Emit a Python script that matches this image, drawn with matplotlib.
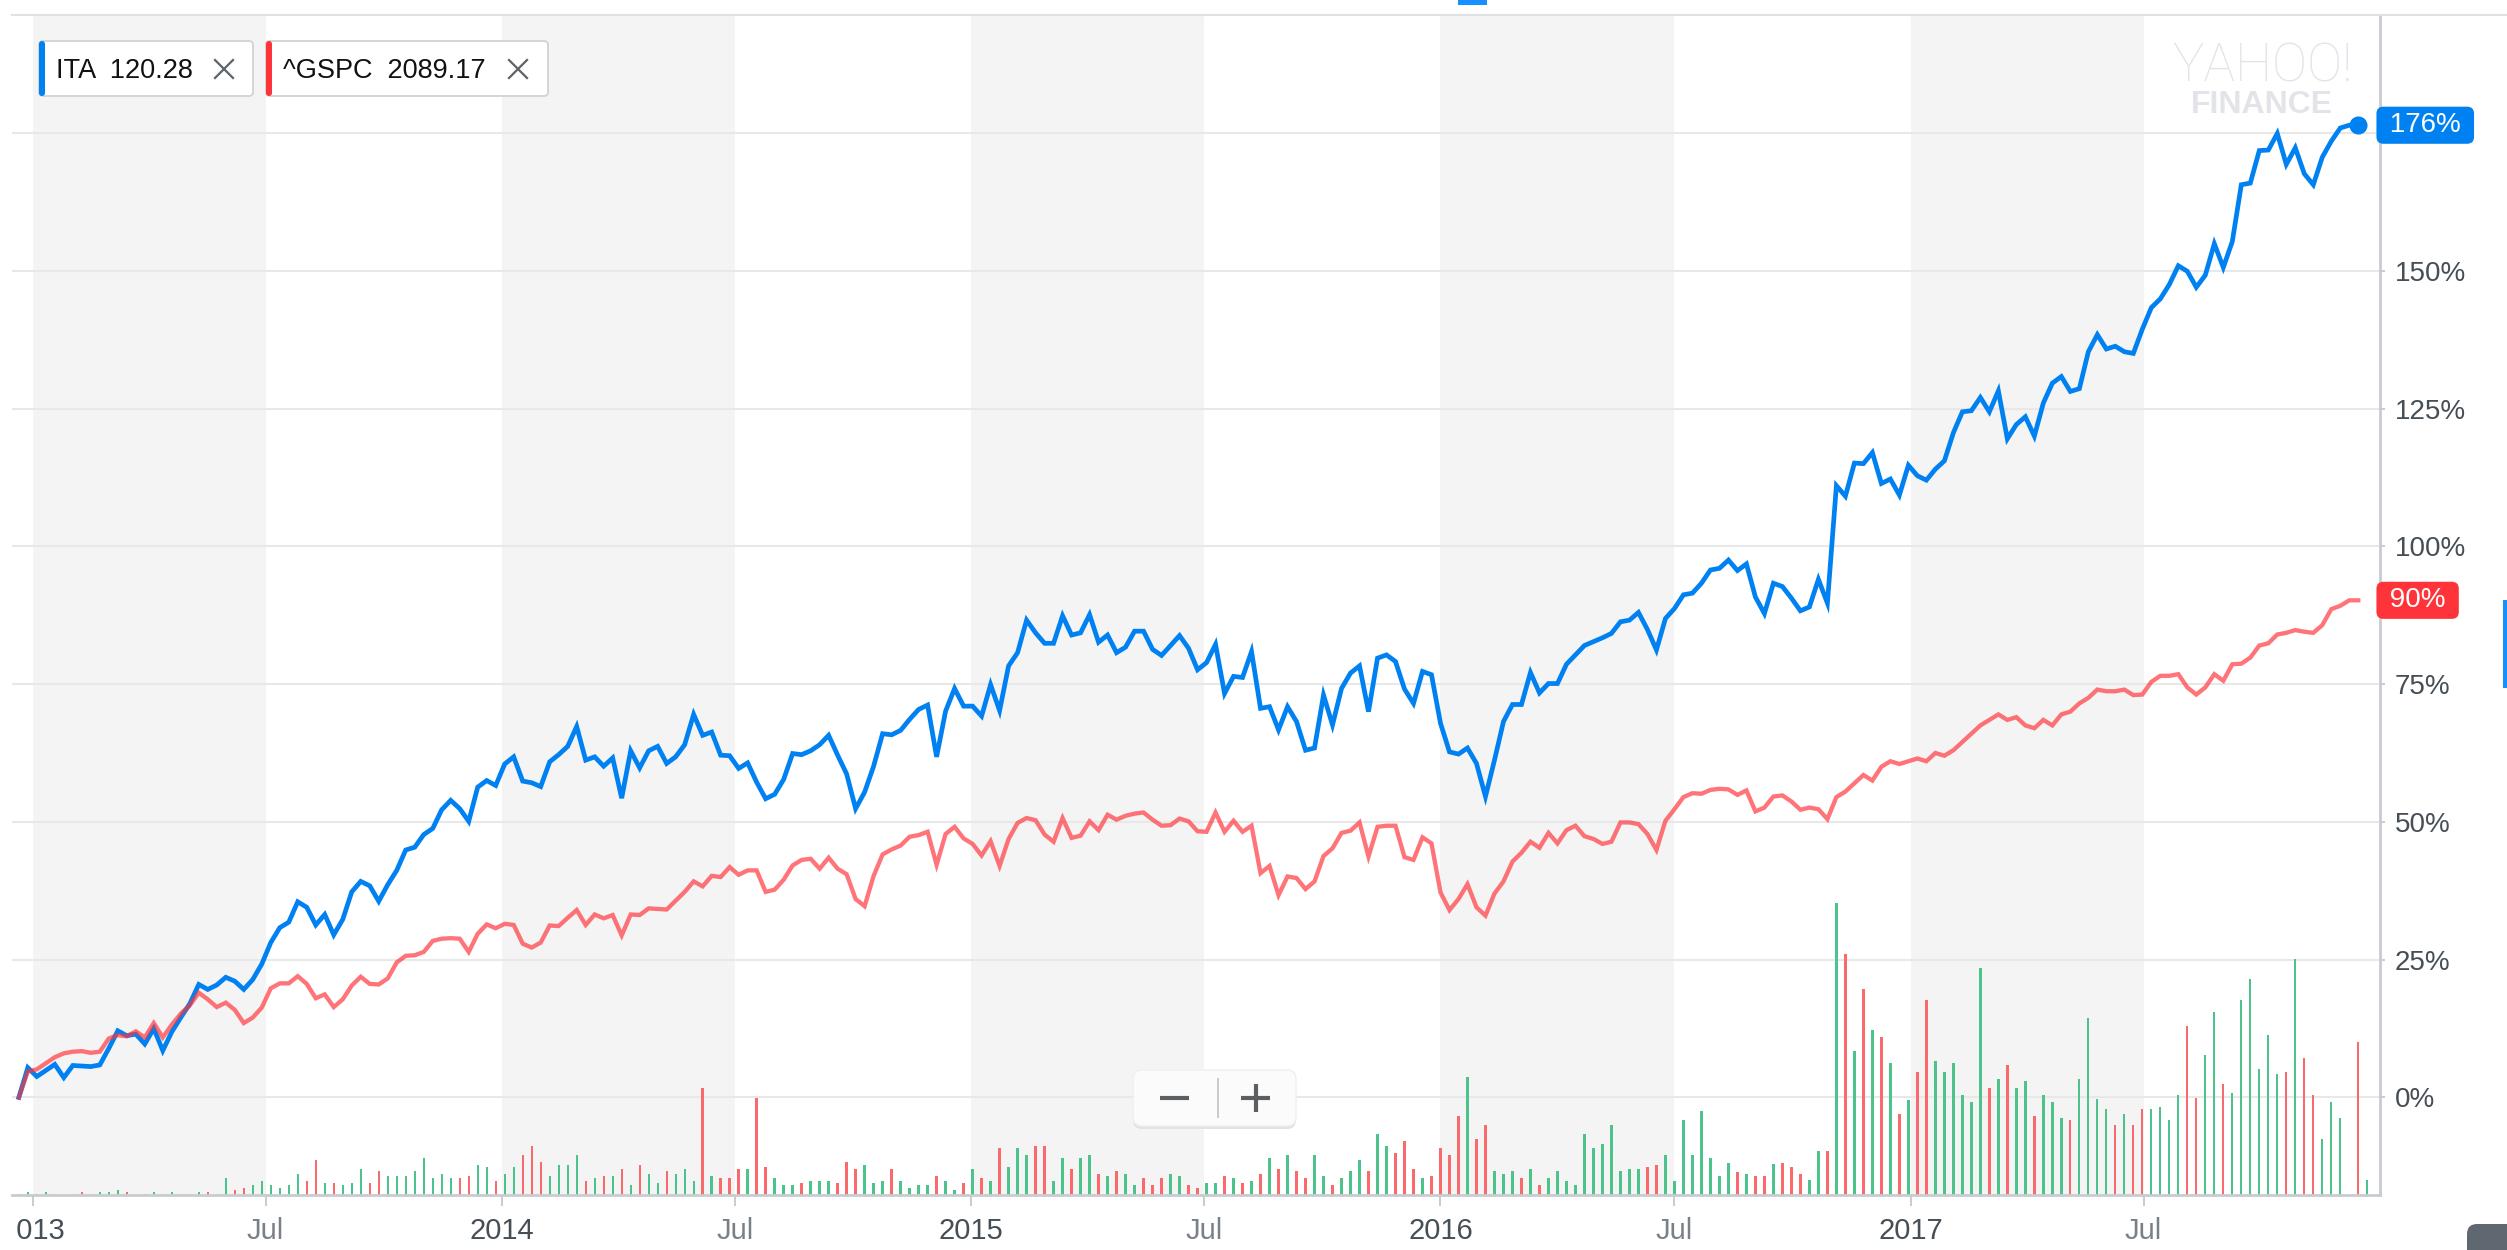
import numpy as np
import pandas as pd
import matplotlib
matplotlib.use('Agg')
import matplotlib.pyplot as plt
import matplotlib.dates as mdates
from matplotlib.patches import FancyBboxPatch, Rectangle
from matplotlib.lines import Line2D
from matplotlib.transforms import Affine2D, Bbox, TransformedBbox, blended_transform_factory

plt.rcParams['font.family'] = ['Liberation Sans', 'DejaVu Sans']

# weekly % change since the first week
ita_pct = [0.0, 5.4, 3.8, 4.9, 6.0, 3.6, 5.8, 5.7, 5.6, 5.9,
           8.9, 12.1, 11.2, 11.5, 9.7, 12.5, 8.5, 11.9, 14.5, 17.0,
           20.5, 19.6, 20.4, 21.8, 21.1, 19.6, 21.4, 24.2, 28.1, 30.8,
           31.8, 35.5, 34.5, 31.3, 33.2, 29.5, 32.3, 37.3, 39.2, 38.4,
           35.6, 38.6, 41.2, 44.9, 45.4, 47.7, 48.8, 52.2, 53.9, 52.4,
           50.1, 56.3, 57.5, 56.6, 60.5, 61.8, 57.4, 57.1, 56.4, 60.9,
           62.2, 63.7, 67.3, 61.2, 61.8, 60.1, 61.6, 54.3, 62.9, 59.8,
           62.9, 63.7, 60.6, 61.8, 64.0, 69.5, 65.7, 66.3, 62.1, 62.0,
           59.7, 60.7, 57.2, 54.2, 55.0, 57.7, 62.4, 62.2, 62.9, 64.0,
           65.7, 62.1, 58.7, 52.4, 55.4, 60.1, 66.0, 65.8, 66.6, 68.6,
           70.4, 71.2, 61.8, 70.1, 74.2, 71.0, 71.0, 69.2, 74.9, 70.2,
           78.3, 80.7, 86.6, 84.3, 82.4, 82.4, 87.4, 83.9, 84.3, 87.6,
           82.6, 83.9, 80.7, 81.7, 84.6, 84.6, 81.3, 80.2, 82.0, 83.8,
           81.5, 77.6, 78.9, 82.2, 73.3, 76.4, 76.2, 80.9, 70.6, 70.9,
           66.7, 70.9, 68.2, 63.0, 63.4, 73.0, 67.6, 74.2, 77.0, 78.3,
           70.0, 79.7, 80.3, 79.1, 74.1, 71.5, 77.3, 76.7, 67.9, 62.7,
           62.3, 63.4, 60.6, 54.6, 61.2, 68.2, 71.3, 71.3, 77.1, 73.4,
           75.1, 75.1, 78.6, 80.3, 82.0, 82.7, 83.4, 84.2, 86.3, 86.6,
           88.0, 84.9, 81.2, 86.9, 88.7, 91.2, 91.5, 93.3, 95.7, 96.0,
           97.5, 95.6, 96.8, 90.8, 87.8, 93.3, 92.7, 90.6, 88.3, 89.0,
           94.0, 89.7, 111.0, 109.1, 115.1, 115.0, 117.0, 111.4, 112.2, 109.3,
           114.7, 112.8, 112.0, 114.0, 115.5, 120.6, 124.4, 124.6, 127.0, 124.4,
           128.2, 119.5, 122.1, 123.5, 120.0, 126.0, 129.6, 130.8, 128.1, 128.6,
           135.3, 138.4, 135.8, 136.3, 135.3, 135.0, 139.4, 143.3, 144.9, 147.5,
           150.9, 149.9, 147.0, 149.2, 154.9, 150.6, 155.3, 165.6, 165.9, 171.8,
           171.9, 174.9, 169.3, 172.3, 167.6, 165.6, 170.6, 173.5, 175.9, 176.4,
           176.4]

spx_pct = [0.0, 4.7, 5.1, 6.2, 7.3, 8.0, 8.3, 8.4, 8.1, 8.3,
           10.7, 11.3, 11.1, 12.0, 10.9, 13.5, 10.9, 13.2, 15.2, 16.7,
           19.0, 17.8, 16.4, 17.2, 15.9, 13.5, 14.5, 16.3, 19.8, 20.7,
           20.7, 22.0, 20.6, 18.0, 18.7, 16.4, 17.8, 20.3, 21.9, 20.6,
           20.5, 21.6, 24.5, 25.7, 25.8, 26.4, 28.4, 28.8, 28.9, 28.8,
           26.4, 29.7, 31.4, 30.7, 31.5, 31.3, 27.9, 27.2, 28.1, 31.2,
           31.1, 32.6, 34.0, 31.3, 33.2, 32.5, 33.1, 29.4, 33.2, 33.1,
           34.3, 34.2, 34.1, 35.7, 37.3, 39.2, 38.3, 40.2, 40.0, 41.8,
           40.4, 41.2, 41.2, 37.3, 37.7, 39.5, 42.1, 43.1, 43.3, 41.5,
           43.5, 41.5, 40.5, 36.0, 34.7, 40.2, 44.1, 45.0, 45.7, 47.3,
           47.6, 48.2, 42.2, 47.8, 49.1, 47.0, 46.0, 43.9, 46.5, 42.0,
           46.9, 49.8, 50.7, 50.3, 47.7, 46.4, 50.7, 47.1, 47.5, 50.1,
           48.5, 51.3, 50.4, 51.1, 51.5, 51.7, 50.4, 49.3, 49.4, 50.6,
           50.1, 48.3, 48.2, 51.7, 48.2, 50.2, 48.2, 49.3, 40.7, 42.0,
           36.7, 40.1, 39.8, 37.8, 39.2, 43.8, 45.2, 48.0, 48.4, 49.9,
           43.7, 49.1, 49.3, 49.3, 43.6, 43.1, 47.2, 46.1, 37.2, 34.0,
           36.0, 38.7, 34.5, 33.0, 37.0, 39.2, 42.8, 44.4, 46.4, 45.3,
           48.0, 46.1, 48.5, 49.3, 47.4, 46.9, 46.0, 46.4, 49.9, 49.9,
           49.6, 47.8, 44.9, 50.2, 52.3, 54.5, 55.2, 55.1, 55.8, 56.0,
           55.9, 54.9, 55.7, 51.9, 52.6, 54.6, 54.8, 53.7, 52.2, 52.6,
           52.3, 50.5, 54.5, 55.5, 57.0, 58.5, 57.5, 60.0, 61.0, 60.5,
           61.0, 61.5, 61.0, 62.5, 62.0, 63.0, 64.5, 66.0, 67.5, 68.5,
           69.5, 68.5, 69.0, 67.5, 67.0, 68.5, 67.5, 69.5, 70.0, 71.5,
           72.5, 74.0, 73.7, 73.7, 74.0, 73.0, 73.1, 75.4, 76.5, 76.5,
           76.8, 74.4, 73.1, 74.4, 76.8, 75.6, 78.6, 78.7, 79.8, 82.0,
           82.4, 84.0, 84.3, 84.8, 84.5, 84.3, 85.7, 88.6, 89.2, 90.2,
           90.2]

# weekly ITA volume (relative units) and bar direction: g = up week, r = down week
volume = [1, 3, 1, 3, 1, 1, 1, 3, 1, 3,
          3, 5, 3, 1, 1, 3, 1, 3, 1, 1,
          3, 3, 1, 17, 5, 7, 10, 14, 10, 7,
          10, 21, 14, 35, 12, 12, 10, 12, 26, 12,
          24, 19, 19, 19, 24, 37, 17, 21, 17, 17,
          19, 30, 28, 14, 21, 28, 40, 49, 33, 19,
          30, 30, 40, 14, 17, 19, 19, 26, 10, 30,
          21, 12, 24, 21, 26, 14, 107, 19, 17, 17,
          26, 26, 97, 28, 17, 10, 10, 12, 14, 14,
          14, 12, 33, 26, 30, 12, 14, 26, 14, 7,
          10, 10, 19, 14, 5, 12, 26, 17, 14, 47,
          28, 47, 40, 49, 49, 14, 37, 26, 37, 40,
          21, 19, 24, 21, 10, 17, 10, 17, 21, 19,
          10, 7, 12, 12, 19, 17, 12, 14, 21, 37,
          26, 40, 24, 17, 40, 19, 10, 17, 24, 35,
          24, 61, 49, 42, 54, 26, 17, 19, 47, 40,
          79, 118, 56, 70, 24, 21, 24, 17, 26, 10,
          17, 24, 14, 10, 61, 47, 51, 70, 24, 26,
          26, 28, 30, 40, 14, 75, 40, 84, 37, 19,
          32, 23, 21, 19, 19, 31, 32, 28, 21, 15,
          44, 44, 292, 241, 144, 206, 165, 158, 132, 81,
          95, 123, 195, 134, 123, 132, 100, 93, 227, 107,
          116, 130, 107, 114, 79, 100, 93, 77, 75, 116,
          177, 96, 86, 70, 81, 70, 86, 86, 88, 75,
          100, 169, 97, 140, 183, 111, 102, 195, 216, 126,
          160, 121, 123, 236, 137, 100, 56, 93, 77, 0,
          153, 15]
bar_dir = ("rgrggrgrrg" "ggrgrgrggg" "grggrrgggg" "ggrrgrgggr" "rggggggggr"
           "rggrggrrrg" "gggrgrgrgr" "ggrgggrgrr" "rgrrgggrgg" "grrrgggrgg"
           "ggrggrgrgr" "gggrrggrgg" "rgrggrrrgg" "rrggrgrgrg" "rgrrggrggg"
           "rggrrrgrrr" "rgrrgggrgr" "gggggggggg" "grrggggggg" "grgrrgrrrg"
           "grgrgrgrgr" "grrggggggr" "grggrgggrg" "gggrgrrggg" "grrggrgggg"
           "ggrgrrgggg" "rg")

tick_dates = ['2013-01-01', '2013-07-01', '2014-01-01', '2014-07-01', '2015-01-01',
              '2015-07-01', '2016-01-01', '2016-07-01', '2017-01-01', '2017-07-01']
tick_labels = ['2013', 'Jul', '2014', 'Jul', '2015', 'Jul', '2016', 'Jul', '2017', 'Jul']
y_ticks = [0, 25, 50, 75, 100, 125, 150, 175]

VOL_TOP = 1180  # volume level at the top of the plot

W, H = 2507, 1250
BLUE = '#0081f2'
RED = '#ff333a'

weeks = pd.date_range('2012-12-21', periods=len(ita_pct), freq='7D')
vol_weeks = pd.date_range('2012-12-21', periods=len(volume), freq='7D')

fig = plt.figure(figsize=(W / 100, H / 100), dpi=100)
fig.patch.set_facecolor('white')
# pixel coordinates, origin top-left
pix = Affine2D().scale(1 / 100., -1 / 100.).translate(0, H / 100.) + fig.dpi_scale_trans

ax = fig.add_axes([12 / W, 1 - 1195 / H, (2380 - 12) / W, (1195 - 15) / H])
ax.patch.set_facecolor('white')

# half-year shading
for yr in range(2013, 2018):
    ax.axvspan(pd.Timestamp(f'{yr}-01-01'), pd.Timestamp(f'{yr}-07-01'),
               color='#f4f4f4', lw=0, zorder=0)

for v in y_ticks:
    ax.axhline(v, color='#e8e8e8', lw=1.5, zorder=1)

# volume bars along the bottom
blend = blended_transform_factory(ax.transData, ax.transAxes)
bar_cols = ['#4cc38a' if c == 'g' else '#fa6a6c' for c in bar_dir]
ax.bar(vol_weeks, np.array(volume) / VOL_TOP, width=1.8, bottom=0,
       color=bar_cols, lw=0, transform=blend, zorder=2)

ax.plot(weeks, ita_pct, color=BLUE, lw=3.4, zorder=3, solid_joinstyle='miter')
ax.plot(weeks, spx_pct, color=RED, alpha=0.68, lw=3.1, zorder=4, solid_joinstyle='miter')
ax.plot(weeks[-1:], ita_pct[-1:], 'o', ms=12, color=BLUE, zorder=5, clip_on=False)

t0 = mdates.date2num(pd.Timestamp('2013-01-01'))
ax.set_xlim(t0 - 16.3, t0 + 1825.9)
ax.set_ylim(-17.7, 196.4)

for s in ['left', 'top']:
    ax.spines[s].set_visible(False)
for s in ['right', 'bottom']:
    ax.spines[s].set_color('#c8ccd0')
    ax.spines[s].set_linewidth(2)

ax.yaxis.tick_right()
ax.set_yticks(y_ticks)
ax.set_yticklabels([f'{v}%' if v < 175 else '' for v in y_ticks])
ax.tick_params(axis='y', length=3.6, width=1.4, color='#c8ccd0', pad=7,
               labelsize=20, labelcolor='#464e56')

ax.set_xticks([mdates.date2num(pd.Timestamp(d)) for d in tick_dates])
ax.set_xticklabels(tick_labels)
ax.tick_params(axis='x', length=8, width=1.4, color='#c8ccd0', pad=8, labelsize=21)
clipbb = TransformedBbox(Bbox.from_extents(16 / W, 0, 1, 1), fig.transFigure)
for lab, txt in zip(ax.get_xticklabels(), tick_labels):
    lab.set_color('#7a8087' if txt == 'Jul' else '#464e56')
    lab.set_clip_box(clipbb)
    lab.set_clip_on(True)

# last-value tags on the right axis
tag_tr = blended_transform_factory(ax.transAxes, ax.transData)
for val, col in [(ita_pct[-1], BLUE), (spx_pct[-1], RED)]:
    ax.annotate(f' {round(val)}% ', xy=(1, val), xycoords=tag_tr, xytext=(2, 0),
                textcoords='offset pixels', ha='left', va='center', fontsize=20,
                color='white', annotation_clip=False, zorder=6,
                bbox=dict(boxstyle='round,pad=0.2,rounding_size=0.25', fc=col, ec='none'))

# top border
fig.add_artist(Line2D([12, W], [15, 15], transform=pix, color='#dfe2e5', lw=1.5))

# legend chips
chips = [(39, 253, BLUE, 'ITA  120.28', 224), (266, 548, RED, '^GSPC  2089.17', 518)]
for x0, x1, col, label, xc in chips:
    fig.add_artist(FancyBboxPatch((x0, 41), x1 - x0, 55, boxstyle='round,pad=0,rounding_size=4',
                                  fc='white', ec='#cfd3d7', lw=1.3, transform=pix))
    fig.add_artist(FancyBboxPatch((x0, 41), 6, 55, boxstyle='round,pad=0,rounding_size=3',
                                  fc=col, ec='none', transform=pix))
    fig.text(x0 + 17, 78.5, label, transform=pix, fontsize=19.5, color='#111111',
             ha='left', va='baseline')
    for dx in (-1, 1):
        fig.add_artist(Line2D([xc - 9, xc + 9], [69 - 9 * dx, 69 + 9 * dx], transform=pix,
                              color='#5b636a', lw=1.6))

# watermark
fig.text(2262, 82, 'YAHOO!', transform=pix, ha='center', va='baseline', fontsize=38,
         family=['Roboto', 'DejaVu Sans'], fontweight='light', color='#e3e4ea')
fig.text(2262, 113, 'FINANCE', transform=pix, ha='center', va='baseline', fontsize=23,
         fontweight='bold', color='#e3e4ea')

# zoom buttons
fig.add_artist(FancyBboxPatch((1133, 1072), 163, 57, boxstyle='round,pad=0,rounding_size=9',
                              fc='#e2e2e2', ec='none', transform=pix))
fig.add_artist(FancyBboxPatch((1133, 1070), 163, 56, boxstyle='round,pad=0,rounding_size=9',
                              fc='#fbfbfb', ec='#efefef', lw=1, transform=pix))
fig.add_artist(Line2D([1218, 1218], [1079, 1117], transform=pix, color='#c8c8c8', lw=1.4))
btn = dict(transform=pix, color='#5b5f63', lw=3, solid_capstyle='butt')
fig.add_artist(Line2D([1160, 1189], [1098, 1098], **btn))
fig.add_artist(Line2D([1241, 1270], [1098, 1098], **btn))
fig.add_artist(Line2D([1255.5, 1255.5], [1084, 1112], **btn))

# page chrome bits
fig.add_artist(Rectangle((1458, 0), 29, 5, transform=pix, fc='#188fff', ec='none'))
fig.add_artist(Rectangle((2503, 600), 4, 88, transform=pix, fc='#188fff', ec='none'))
fig.add_artist(FancyBboxPatch((2467, 1224), 60, 40, boxstyle='round,pad=0,rounding_size=10',
                              fc='#5f6770', ec='none', transform=pix))

fig.savefig('out.png', dpi=100, facecolor='white')
